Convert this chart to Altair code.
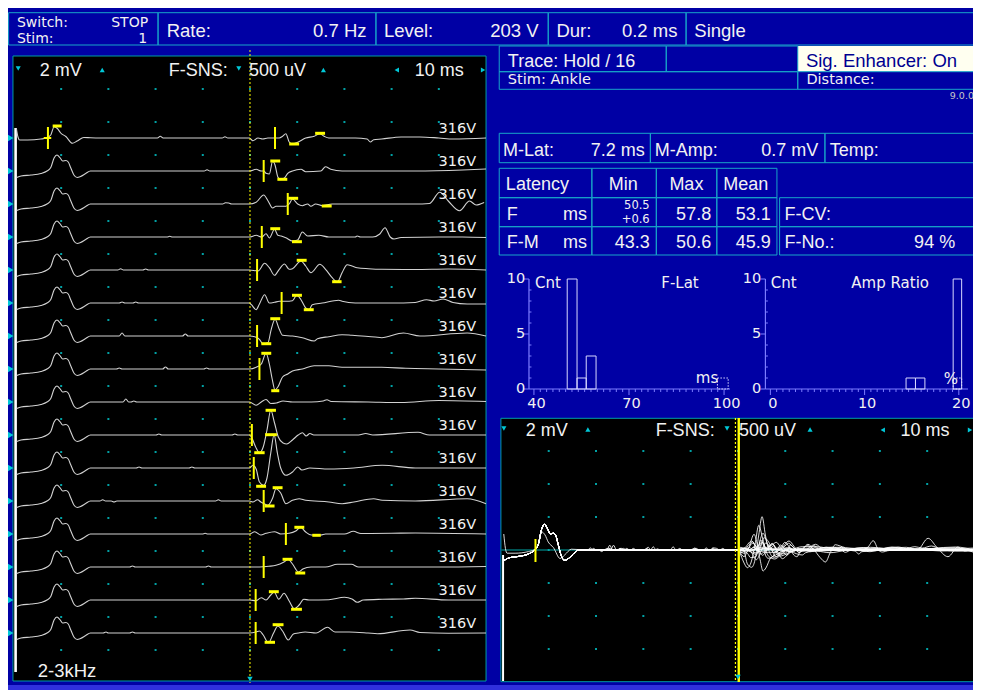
import altair as alt
import pandas as pd

N_TRACES = 16
TRACE_LEVEL = ["316V"] * N_TRACES
M_LAT_MS = 7.2
F_CURSOR_MS = 50.0
STIM_ARTIFACT_MS = 0.35

# M response (ms, amplitude in display px at M gain)
M_WAVE_T1_MS = [0.5, 0.85, 1.2, 2.9, 5.7, 6.8, 7.8, 8.5, 9.2, 9.9, 11.0, 12.4, 13.4, 14.8, 16.2, 20.0]
M_WAVE_T1_AMP = [10, 1, -2, -2, -1, 0, 3, 11.3, 9.5, 5, 1.5, -5.3, -3, 0.5, 0.3, 0]
M_WAVE_MS = [0.6, 1.5, 3.6, 5.7, 7.0, 7.8, 8.5, 9.1, 9.8, 10.3, 11.0, 11.5, 12.0, 12.7, 13.4, 14.1, 15.2, 16.2, 20.0]
M_WAVE_AMP = [-6.5, -5, -4, -2.5, 0, 3.5, 13, 16, 13, 10, 10.5, 9, 3.5, -4, -6.5, -5.5, -2.5, 0, 0]
M_PEAK_BAR_MS = [8.2, 10.1]
M_PEAK_BAR_AMP = 12.0

# rest of each trace after the M response: (ms, amplitude)
TRACE_01 = [(30.4, 0), (31.0, 1.8), (31.6, 0), (44.1, 0), (44.7, 1.3), (45.3, 0), (48.5, 0), (49.9, 0),
            (50.6, -2.7), (51.7, 0), (52.7, -1), (53.8, 0), (56.2, 0), (56.9, 1.7), (57.6, 4.3), (58.3, -4),
            (59.0, -6), (60.1, -4.3), (61.8, 0), (63.6, 1.7), (64.8, 4.3), (65.7, 1.7), (66.7, 0), (72.3, 0),
            (74.8, -1), (75.5, -4), (76.2, -1.7), (77.9, -1), (82, 1), (86, 1), (90, 0), (93, -1), (100, 0)]
TRACE_02 = [(40.3, 0), (40.9, 1.3), (41.5, 0), (48.5, 0), (49.9, 0), (51.3, 1.7), (52.4, 0), (52.9, 0),
            (53.4, -2.3), (54.1, -3), (54.8, 10), (55.3, 6), (55.9, -6), (56.4, -8.3), (57.3, -7), (58.0, -2.3),
            (59.0, 0), (60.8, 1.7), (61.8, -0.7), (65.0, 0), (66.0, 4.3), (67.1, 1.7), (69.5, 0), (78, 0),
            (85, 0), (95, 1), (100, 2)]
TRACE_03 = [(44.2, 0), (44.8, 1.3), (45.5, 1), (46.1, 0), (48.5, 0), (49.9, 0), (51.3, 1.7), (52.9, 9),
            (53.8, 3.3), (54.8, -4), (55.5, -2.3), (56.6, -2.3), (57.6, -2.3), (58.3, 0), (59.0, 5), (60.1, 0),
            (61.1, -1.7), (62.2, 0), (62.9, -2.3), (63.9, 0), (65.3, -1.7), (67.4, 0), (75, 0), (85, 0),
            (88, 0.5), (90.2, 11.7), (92, 3), (94.4, -6.7), (96.5, 3), (97.9, -1), (99.6, 1.5)]
TRACE_04 = [(32.4, 0), (33.0, 0.7), (33.6, 0), (48.5, 0), (49.9, 0), (51.3, 1.7), (52.5, 0), (53.4, 3.3),
            (54.1, -1), (55.2, 7.7), (55.9, 1.7), (56.6, 1), (57.6, -0.7), (59.0, -4), (60.1, -3), (61.1, 5),
            (62.2, 1), (64.6, 1.7), (66.7, 0), (72.3, 0), (72.7, 1), (73.4, 0), (76, 0), (77.5, 3), (78.6, 9.3),
            (79.7, 0), (80.5, -2), (82, -0.5), (90, 0), (95, 0), (100, -0.5)]
TRACE_05 = [(22.0, 0), (22.6, 1.3), (23.2, 0), (27.3, 0), (27.9, 1), (28.5, 0), (48.5, 0), (49.9, 0),
            (51.7, -1), (53.1, 6.7), (54.1, 2.3), (55.2, -5.3), (56.2, 0.7), (57.3, 6), (58.3, 0.7), (59.0, 1.3),
            (60.8, 9), (61.8, 4), (62.9, -2.7), (64.8, 5.7), (66.0, 0.7), (67.4, -7.7), (68.5, -12), (69.5, -2.7),
            (70.6, 5.3), (71.6, 4), (72.7, 2.3), (75.1, 1.3), (77.9, 0.7), (85, 0.5), (92, 1), (100, 0)]
TRACE_06 = [(22.3, 0), (22.9, 1), (23.5, 0), (25.2, 0), (25.8, 1), (26.4, 0), (48.5, 0), (49.9, 0),
            (50.3, -1.7), (51.3, -6.7), (52.0, -1), (53.1, 8.3), (54.1, 0), (55.2, 0.7), (56.2, 1.7), (57.6, 1.7),
            (59.0, 2.3), (59.9, 7.7), (60.8, 3.3), (61.8, -5), (62.5, -6.7), (63.2, -1.7), (65.3, 0), (68.8, 2.7),
            (69.5, 1.7), (72.3, 0), (80, 0), (85, 0.5), (87.4, 3.3), (89, 2), (90.9, 4), (93, 0.5), (96, -1),
            (100, -1)]
TRACE_07 = [(22.3, 0), (22.9, 3), (23.5, 0), (35.7, 0), (36.3, 2), (36.9, 0), (48.5, 0), (49.9, 0),
            (51.0, -0.7), (52.0, -3.3), (52.7, -7.7), (53.8, -6.7), (54.5, 6.7), (55.3, 16.7), (56.2, 6.7),
            (56.9, 0.7), (59.0, 0), (61.1, -1.7), (63.6, -5), (64.3, -2.7), (66.7, -0.7), (69.5, 1.3), (71.6, 0.7),
            (73.7, 0), (76.5, -1), (77.9, -1.7), (82.5, 3), (86, 0), (96, 3), (100, 0)]
TRACE_08 = [(21.7, 0), (22.3, 1), (22.9, 0), (31.5, 0), (32.1, 2), (32.7, 0), (40.2, 0), (40.8, 1), (41.4, 0),
            (48.5, 0), (49.9, 0), (51.3, 1.7), (52.4, 5), (53.4, 15.7), (54.1, 5), (54.7, -10), (55.3, -21),
            (55.9, -18), (56.9, -8), (58.0, -5), (59.0, -2), (61.1, 0), (63.6, 3.3), (66.7, 3.3), (69.5, 1.7),
            (77.9, 1.7), (83, 0.7), (90, 0), (100, -1)]
TRACE_09 = [(23.1, 0), (23.7, 3), (24.3, 0), (24.8, 0), (25.4, 1), (26.0, 0), (48.5, 0), (49.9, 0),
            (51.3, -3.3), (52.4, 0), (53.4, 2.5), (54.4, -1.5), (55.6, -1), (57, 1), (59, 0), (63, 0), (65.5, 1),
            (66.3, 2.3), (67.2, 0.5), (75, 0), (82, -0.5), (90, 1.5), (100, 0.5)]
TRACE_10 = [(30.1, 0), (30.7, 1), (31.3, 0), (46.2, 0), (46.8, 1), (47.4, 0), (48.5, 0), (49.9, 0),
            (50.4, -3), (51.2, -12), (52.0, -17.7), (52.8, -12), (53.6, 5), (54.4, 24.7), (55.2, 12), (56.0, -2),
            (57.0, -8), (57.8, -9), (59.0, -5), (60.2, 0), (61.1, 2.3), (61.9, -1), (62.7, 1.5), (63.5, 0),
            (67, 0), (73, 0), (74.5, 1.5), (76, 0), (85.6, 2.7), (88, 0), (100, 0)]
TRACE_11 = [(25.9, 0), (26.5, 1), (27.1, 0), (37.1, 0), (37.7, 1), (38.3, 0), (48.5, 0), (49.9, 0),
            (50.6, 2.7), (51.3, -1), (52.0, -14), (52.9, -17.3), (53.6, -10), (54.4, 15), (55.1, 33.3),
            (55.8, 15), (56.5, 0), (57.6, -7.3), (59.0, -4), (60.1, 1), (61.0, -2), (62.7, 0), (66.7, -1),
            (72, 0), (78, 2.7), (85, 0), (100, 0)]
TRACE_12 = [(18.2, 0), (18.8, 1.3), (19.4, 0), (20.6, 0), (21.2, -1), (21.8, 0), (42.7, 0), (43.3, 1.3),
            (43.9, 0), (48.5, 0), (49.9, 0), (50.6, -1), (51.6, 1.3), (52.3, -1), (53.0, -2.7), (53.8, -4.3),
            (54.8, 3), (55.5, 12.3), (56.5, 8), (57.6, -2.7), (59.0, 0.7), (60.4, 2.3), (61.8, 0.7), (66.7, -1),
            (69.5, -2.7), (72, -1), (76.2, 2.3), (78, 0.7), (85, 0), (96, 2.3), (100, -2.7)]
TRACE_13 = [(39.9, 0), (40.5, 0.7), (41.1, 0), (48.5, 0), (49.9, 0), (51.0, 2.3), (52.3, -1), (53.4, 0.7),
            (55.2, 2.3), (56.5, 0), (58.3, 0.7), (59.7, 3), (60.7, 6.7), (61.8, 2), (63.0, -1), (65.0, -1),
            (66.0, 0), (70, 0), (71.9, 2.7), (73.5, 0.5), (80, 0.7), (85, 1), (100, 0)]
TRACE_14 = [(24.5, 0), (25.1, 1), (25.7, 0), (40.6, 0), (41.2, 1), (41.8, 0), (48.5, 0), (49.9, 0), (52, 0),
            (54, 0.7), (55.5, 1.7), (57.2, 5), (58.1, 7.7), (59.0, 3), (60.3, -5), (61.2, -2), (62.9, 0), (66, 0),
            (68.5, 2.7), (71.5, 2.7), (73, 0), (80, 0), (90, 0), (100, 0.5)]
TRACE_15 = [(48.5, 0), (49.9, 0), (51.3, -0.7), (52.4, 2.3), (53.4, 0), (54.4, 5), (55.1, 8), (56.1, 0.7),
            (57.2, 6.7), (58.3, -1), (59.4, -8.7), (60.4, -5), (61.4, 0.7), (62.5, 0), (66.7, 0.3), (70, 2.7),
            (71.6, 1), (72.7, -2.3), (74, 0), (78, 0.7), (82.5, 1), (85, 1.7), (92, 0), (100, 0)]
TRACE_16 = [(18.9, 0), (19.5, 1), (20.1, 0), (24.5, 0), (25.1, 1), (25.7, 0), (48.5, 0), (49.9, 0),
            (51.3, 1), (52.0, 2), (52.8, -2), (53.9, -9.7), (55.0, 0), (55.9, 7), (56.9, 2), (58.1, -7),
            (59.2, -1), (60.2, 0), (61.7, 1), (64, 0), (66.4, 5.7), (68, 1), (71, 1), (75, 0), (77, -0.7),
            (83.9, 3), (86, 0.5), (92, -0.3), (100, 0)]

# F-wave markers per trace (trace 9: no F wave found -> F-No. 94 %)
F_ONSET_MS = [55.3, 52.9, 58.0, 52.5, 51.5, 56.7, 51.5, 52.0, None, 50.4, 50.8, 52.9, 57.6, 52.9, 51.2, 51.2]
F_PEAK_FROM = [63.8, 54.3, 58.1, 54.3, 59.9, 58.9, 54.3, 52.4, None, 53.3, 53.2, 54.8, 59.4, 56.9, 54.0, 54.8]
F_PEAK_TO = [65.9, 56.4, 60.2, 56.4, 62.0, 61.0, 56.4, 54.5, None, 55.5, 55.7, 56.9, 61.5, 59.0, 56.1, 57.1]
F_PEAK_AMP = [4.7, 10, 5.7, 8.3, 9.7, 7.7, 17.3, 15.7, None, 24.7, 33.3, 13.3, 6.7, 7.7, 8.3, 8.3]
F_TROUGH_FROM = [58.3, 55.8, 65.2, 58.9, 67.4, 61.4, 52.4, 54.5, None, 50.9, 51.3, 53.1, 63.2, 59.6, 58.7, 53.1]
F_TROUGH_TO = [60.4, 57.9, 67.3, 61.0, 69.4, 63.5, 54.5, 56.2, None, 53.1, 53.4, 55.2, 65.0, 61.7, 61.0, 55.3]
F_TROUGH_AMP = [-6, -8.3, -2, -4.7, -11.7, -6.7, -7.7, -21.7, None, -17.7, -18.3, -5, -1.3, -6, -9.3, -9.3]

# histograms
FLAT_BIN_LO = [50.5, 53.6, 56.5]
FLAT_BIN_HI = [53.6, 56.5, 59.6]
FLAT_COUNT = [11, 1, 3]
AMPR_BIN_LO = [14.4, 15.4, 19.4]
AMPR_BIN_HI = [15.4, 16.4, 20.3]
AMPR_COUNT = [1, 1, 13]
FLAT_TICKS = [40, 70, 100]
AMPR_TICKS = [0, 10, 20]
CNT_TICKS = [0, 5, 10]

# ======================= STYLE / LAYOUT =======================
W, H = 965, 682
KX = W / 973.0                      # screen columns 8..981 squeezed into the 965 px page width
BIG = "Liberation Sans"
SMALL = "DejaVu Sans"
NAVY = "#0000A4"
NAVY_TXT = "#000090"
LINE = "#18A4C8"
EDGE = "#009CA4"
TRI = "#00C8D8"
DOT = "#00A0A4"
YEL = "#FFFF00"
GREY = "#D2D2D2"
WHITE = "#F2F2F2"
AXB = "#7C7CFF"
BARL = "#D8D8FF"
GAP = 33          # vertical spacing of the stacked traces, px
R_GAIN_M = 1.6    # superimposed panel gain before the F-SNS cursor


def px(x):
    return (x - 8) * KX


def sc(domain, rng, clamp=False):
    return alt.Scale(domain=domain, range=rng, nice=False, zero=False, clamp=clamp)


SCRX = lambda: sc([0, 1000], [px(0), px(1000)])          # screen columns
SCRY = lambda: sc([0, 1000], [-8, 992])                  # screen rows
LX = lambda: sc([0, 100], [px(14), px(490)])              # left panel time
LY = lambda: sc([0, 100], [130, 30])                      # left panel stacked amplitude
RX = lambda: sc([0, 100], [px(505.5), px(982.5)])         # superimposed panel time
RY = lambda: sc([0, 100], [542, 442])                     # superimposed panel amplitude
HLX = lambda: sc([40, 100], [px(538.3), px(730)])         # F-Lat histogram
HRX = lambda: sc([0, 20], [px(776.7), px(966.7)])         # Amp ratio histogram
HY = lambda: sc([0, 10], [381, 271], clamp=True)


def X(f, s):
    return alt.X(f, scale=s, axis=None)


def Y(f, s):
    return alt.Y(f, scale=s, axis=None)


layers = []

# ---------- screen boxes ----------
def boxes(rows, filled, **kw):
    df = pd.DataFrame(rows, columns=["x", "x2", "y", "y2", "c"])
    if filled:
        m = alt.Chart(df).mark_rect(**kw).encode(fill=alt.Fill("c:N", scale=None))
    else:
        m = alt.Chart(df).mark_rect(fillOpacity=0, strokeWidth=1, **kw).encode(
            stroke=alt.Stroke("c:N", scale=None))
    return m.encode(x=X("x:Q", SCRX()), x2="x2:Q", y=Y("y:Q", SCRY()), y2="y2:Q")


fills = [
    (8, 982, 685, 690, "#3030DC"),
    (13, 490, 56, 681, "#000000"),
    (505, 982, 418.3, 681.7, "#000000"),
    (804.3, 982, 46, 71.7, "#FFFFF0"),
]
layers.append(boxes(fills, True))

outl = []
tb = [8.6, 159.3, 379, 552.7, 691.7, 982]
for a, b in zip(tb[:-1], tb[1:]):
    outl.append((a, b, 12.7, 45, LINE))
outl += [(503.3, 671.7, 46, 71.7, LINE), (671.7, 804.3, 46, 71.7, LINE),
         (503.3, 804.3, 71.7, 89.3, LINE), (804.3, 982, 71.7, 89.3, LINE),
         (503.3, 655.7, 133.3, 162.7, LINE), (655.7, 831.7, 133.3, 162.7, LINE), (831.7, 982, 133.3, 162.7, LINE),
         (786, 982, 197.7, 226.7, LINE), (786, 982, 226.7, 255, LINE)]
lc = [503.3, 596.7, 661.7, 722.7, 783.3]
lr = [168.3, 197.7, 226.7, 255]
for a, b in zip(lc[:-1], lc[1:]):
    for c, d in zip(lr[:-1], lr[1:]):
        outl.append((a, b, c, d, LINE))
outl += [(13, 490, 56, 681, EDGE), (505, 982, 418.3, 681.7, EDGE)]
layers.append(boxes(outl, False))

# ---------- trace data ----------
TAILS = [TRACE_01, TRACE_02, TRACE_03, TRACE_04, TRACE_05, TRACE_06, TRACE_07, TRACE_08,
         TRACE_09, TRACE_10, TRACE_11, TRACE_12, TRACE_13, TRACE_14, TRACE_15, TRACE_16]
rows = []
for i, tail in enumerate(TAILS, start=1):
    head = list(zip(M_WAVE_T1_MS, M_WAVE_T1_AMP)) if i == 1 else list(zip(M_WAVE_MS, M_WAVE_AMP))
    for t, a in head + tail:
        rows.append({"trace": i, "t": t, "amp": a})
traces = pd.DataFrame(rows)

mk = pd.DataFrame({"trace": list(range(1, N_TRACES + 1)), "onset": F_ONSET_MS,
                   "pk0": F_PEAK_FROM, "pk1": F_PEAK_TO, "pka": F_PEAK_AMP,
                   "tr0": F_TROUGH_FROM, "tr1": F_TROUGH_TO, "tra": F_TROUGH_AMP}).dropna()
lab = pd.DataFrame({"trace": list(range(1, N_TRACES + 1)), "label": TRACE_LEVEL})
BASE = f"-{GAP}*(datum.trace-1)"

# ---------- left stacked panel ----------
ldots = pd.DataFrame([{"t": c, "y": 49 - GAP * k} for c in range(10, 100, 10) for k in range(18)])
layers.append(alt.Chart(ldots).mark_square(size=4, color=DOT, opacity=1).encode(
    x=X("t:Q", LX()), y=Y("y:Q", LY())))

layers.append(alt.Chart(pd.DataFrame([{"t": STIM_ARTIFACT_MS, "y1": 10, "y2": -534}])).mark_rule(
    color="#FFFFFF", strokeWidth=2.6).encode(x=X("t:Q", LX()), y=Y("y1:Q", LY()), y2="y2:Q"))

layers.append(alt.Chart(traces).transform_calculate(yl=f"datum.amp {BASE}").mark_line(
    color=GREY, strokeWidth=1.1, interpolate="monotone").encode(
    x=X("t:Q", LX()), y=Y("yl:Q", LY()), detail="trace:N", order="t:Q"))

layers.append(alt.Chart(pd.DataFrame([{"t": F_CURSOR_MS, "y1": 88, "y2": -545}])).mark_rule(
    color=YEL, strokeWidth=1, strokeDash=[2, 2]).encode(x=X("t:Q", LX()), y=Y("y1:Q", LY()), y2="y2:Q"))

layers.append(alt.Chart(mk).transform_calculate(b=BASE, y1="datum.b + 11", y2="datum.b - 11").mark_rule(
    color=YEL, strokeWidth=2).encode(x=X("onset:Q", LX()), y=Y("y1:Q", LY()), y2="y2:Q"))
layers.append(alt.Chart(mk).transform_calculate(yp=f"datum.pka {BASE}").mark_rule(
    color=YEL, strokeWidth=3).encode(x=X("pk0:Q", LX()), x2="pk1:Q", y=Y("yp:Q", LY())))
layers.append(alt.Chart(mk).transform_calculate(yp=f"datum.tra {BASE}").mark_rule(
    color=YEL, strokeWidth=3).encode(x=X("tr0:Q", LX()), x2="tr1:Q", y=Y("yp:Q", LY())))

# M-latency cross and M peak bar on trace 1
layers.append(alt.Chart(pd.DataFrame([{"t": M_LAT_MS, "y1": 11, "y2": -11}])).mark_rule(
    color=YEL, strokeWidth=2).encode(x=X("t:Q", LX()), y=Y("y1:Q", LY()), y2="y2:Q"))
layers.append(alt.Chart(pd.DataFrame([{"t0": M_LAT_MS - 0.9, "t1": M_LAT_MS + 0.7, "y": 0}])).mark_rule(
    color=YEL, strokeWidth=2).encode(x=X("t0:Q", LX()), x2="t1:Q", y=Y("y:Q", LY())))
layers.append(alt.Chart(pd.DataFrame([{"t0": M_PEAK_BAR_MS[0], "t1": M_PEAK_BAR_MS[1], "y": M_PEAK_BAR_AMP}])).mark_rule(
    color=YEL, strokeWidth=3).encode(x=X("t0:Q", LX()), x2="t1:Q", y=Y("y:Q", LY())))

layers.append(alt.Chart(lab).transform_calculate(yl=BASE).mark_text(
    align="right", baseline="alphabetic", font=SMALL, fontSize=14.5, color=WHITE, dy=-5.5).encode(
    x=alt.value(px(480)), y=Y("yl:Q", LY()), text="label:N"))
layers.append(alt.Chart(lab).transform_calculate(yl=BASE).mark_point(
    shape="triangle-right", filled=True, size=45, color=TRI, opacity=1).encode(
    x=alt.value(px(10.6)), y=Y("yl:Q", LY())))
layers.append(alt.Chart(pd.DataFrame([{"t": F_CURSOR_MS, "y": -541}])).mark_point(
    shape="triangle-down", filled=True, size=30, color=TRI, opacity=1).encode(
    x=X("t:Q", LX()), y=Y("y:Q", LY())))

# ---------- superimposed panel ----------
rdots = pd.DataFrame([{"t": c, "y": v} for c in range(10, 100, 10) for v in [99, 66, 33, 0, -33, -66, -99]])
layers.append(alt.Chart(rdots).mark_square(size=4, color=DOT, opacity=1).encode(
    x=X("t:Q", RX()), y=Y("y:Q", RY())))
layers.append(alt.Chart(pd.DataFrame([{"t0": 0, "t1": 100, "y": 0}])).mark_rule(
    color="#00A8A8", strokeWidth=1).encode(x=X("t0:Q", RX()), x2="t1:Q", y=Y("y:Q", RY())))
layers.append(alt.Chart(pd.DataFrame([{"t": STIM_ARTIFACT_MS, "y1": -5, "y2": -131}])).mark_rule(
    color="#FFFFFF", strokeWidth=2).encode(x=X("t:Q", RX()), y=Y("y1:Q", RY()), y2="y2:Q"))
layers.append(alt.Chart(traces).transform_calculate(
    yr=f"datum.amp * (datum.t < {F_CURSOR_MS} ? {R_GAIN_M} : 1.0)").mark_line(
    color="#FFFFFF", strokeWidth=1, opacity=0.85, interpolate="monotone").encode(
    x=X("t:Q", RX()), y=Y("yr:Q", RY()), detail="trace:N", order="t:Q"))
layers.append(alt.Chart(pd.DataFrame([{"t": M_LAT_MS, "y1": 11, "y2": -12}])).mark_rule(
    color=YEL, strokeWidth=2).encode(x=X("t:Q", RX()), y=Y("y1:Q", RY()), y2="y2:Q"))
cur = pd.DataFrame([{"t": F_CURSOR_MS, "y1": 132, "y2": -132}])
layers.append(alt.Chart(cur).mark_rule(color=YEL, strokeWidth=1.2, strokeDash=[2, 2], xOffset=-2.5).encode(
    x=X("t:Q", RX()), y=Y("y1:Q", RY()), y2="y2:Q"))
layers.append(alt.Chart(cur).mark_rule(color=YEL, strokeWidth=2.4, xOffset=0.8).encode(
    x=X("t:Q", RX()), y=Y("y1:Q", RY()), y2="y2:Q"))
layers.append(alt.Chart(pd.DataFrame([{"t": F_CURSOR_MS, "y": -127}])).mark_point(
    shape="triangle-down", filled=True, size=30, color=TRI, opacity=1).encode(
    x=X("t:Q", RX()), y=Y("y:Q", RY())))

# ---------- histograms ----------
axes = pd.DataFrame([(533.3, 533.3, 279, 389), (533.3, 736, 389, 389),
                     (771.7, 771.7, 279, 389), (771.7, 976, 389, 389)], columns=["x", "x2", "y", "y2"])
layers.append(alt.Chart(axes).mark_rule(color=AXB, strokeWidth=1.2).encode(
    x=X("x:Q", SCRX()), x2="x2:Q", y=Y("y:Q", SCRY()), y2="y2:Q"))

ymaj = pd.DataFrame([{"c": c, "x": ax, "x2": ax - 5} for c in CNT_TICKS for ax in (533.3, 771.7)])
ymin = pd.DataFrame([{"c": c, "x": ax, "x2": ax + 2.5} for c in range(1, 10) if c != 5 for ax in (533.3, 771.7)])
for d in (ymaj, ymin):
    layers.append(alt.Chart(d).mark_rule(color=AXB).encode(
        x=X("x:Q", SCRX()), x2="x2:Q", y=Y("c:Q", HY())))
xl_min = pd.DataFrame([{"v": v, "y": 389, "y2": 392} for v in range(42, 100, 2) if v != 70])
xl_maj = pd.DataFrame([{"v": v, "y": 389, "y2": 395} for v in FLAT_TICKS])
xr_min = pd.DataFrame([{"v": k * 2 / 3, "y": 389, "y2": 392} for k in range(1, 30) if k != 15])
xr_maj = pd.DataFrame([{"v": v, "y": 389, "y2": 395} for v in AMPR_TICKS])
for d, s in ((xl_min, HLX), (xl_maj, HLX), (xr_min, HRX), (xr_maj, HRX)):
    layers.append(alt.Chart(d).mark_rule(color=AXB).encode(
        x=X("v:Q", s()), y=Y("y:Q", SCRY()), y2="y2:Q"))

ylab = pd.DataFrame([{"c": c, "x": ax, "t": str(c)} for c in CNT_TICKS for ax in (529.5, 767.5)])
layers.append(alt.Chart(ylab).mark_text(align="right", baseline="middle", font=SMALL, fontSize=14.5,
                                        color=WHITE).encode(
    x=X("x:Q", SCRX()), y=Y("c:Q", HY()), text="t:N"))
for ticks, s in ((FLAT_TICKS, HLX), (AMPR_TICKS, HRX)):
    d = pd.DataFrame([{"v": v, "y": 404, "t": str(v)} for v in ticks])
    layers.append(alt.Chart(d).mark_text(align="center", baseline="middle", font=SMALL, fontSize=14.5,
                                         color=WHITE, dx=2.5).encode(
        x=X("v:Q", s()), y=Y("y:Q", SCRY()), text="t:N"))

for lo, hi, cnt, s in ((FLAT_BIN_LO, FLAT_BIN_HI, FLAT_COUNT, HLX), (AMPR_BIN_LO, AMPR_BIN_HI, AMPR_COUNT, HRX)):
    d = pd.DataFrame({"lo": lo, "hi": hi, "n": cnt})
    layers.append(alt.Chart(d).transform_calculate(z="0").mark_rect(
        fillOpacity=0, stroke=BARL, strokeWidth=1).encode(
        x=X("lo:Q", s()), x2="hi:Q", y=Y("z:Q", HY()), y2="n:Q"))
icons = [((97.9, 101.3), HLX), ((19.4, 20.3), HRX)]
for (a, b), s in icons:
    d = pd.DataFrame([{"lo": a, "hi": b, "z": 0, "n": 1}])
    layers.append(alt.Chart(d).mark_rect(fillOpacity=0, stroke=BARL, strokeWidth=1, strokeDash=[1.5, 1.5]).encode(
        x=X("lo:Q", s()), x2="hi:Q", y=Y("z:Q", HY()), y2="n:Q"))

# ---------- header triangles ----------
tris = pd.DataFrame([
    (18.3, 68.5, "triangle-down"), (103, 70, "triangle-up"), (240.7, 68.5, "triangle-down"),
    (326, 70, "triangle-up"), (400, 70, "triangle-left"), (487, 70, "triangle-right"),
    (508, 428.5, "triangle-down"), (592.7, 429.5, "triangle-up"), (733, 428.5, "triangle-down"),
    (816.7, 429.5, "triangle-up"), (890, 430, "triangle-left"), (978, 430, "triangle-right"),
], columns=["x", "y", "shape"])
layers.append(alt.Chart(tris).mark_point(filled=True, size=26, color=TRI, opacity=1).encode(
    x=X("x:Q", SCRX()), y=Y("y:Q", SCRY()), shape=alt.Shape("shape:N", scale=None)))


# ---------- screen texts ----------
def texts(rows, align, font):
    df = pd.DataFrame(rows, columns=["text", "x", "y", "size", "color"])
    return alt.Chart(df).mark_text(align=align, baseline="alphabetic", font=font).encode(
        x=X("x:Q", SCRX()), y=Y("y:Q", SCRY()), text="text:N",
        size=alt.Size("size:Q", scale=None), color=alt.Color("color:N", scale=None))


big_left = [
    ("Rate:", 168, 37.3, 18.5, WHITE), ("Level:", 387, 37.3, 18.5, WHITE), ("Dur:", 561, 37.3, 18.5, WHITE),
    ("Single", 700, 37.3, 18.5, WHITE), ("Trace: Hold / 16", 512, 66.5, 18, WHITE),
    ("Sig. Enhancer: On", 812.5, 67, 18.5, NAVY_TXT),
    ("M-Lat:", 507, 156, 18, WHITE), ("M-Amp:", 660, 156, 18, WHITE), ("Temp:", 836.5, 156, 18, WHITE),
    ("Latency", 510, 190, 18, WHITE), ("F", 511, 220, 18, WHITE), ("F-M", 511, 247.5, 18, WHITE),
    ("F-CV:", 791, 220, 18, WHITE), ("F-No.:", 791, 247.5, 18, WHITE),
    ("2 mV", 40, 76, 18, WHITE), ("F-SNS:", 170, 76, 18, WHITE), ("500 uV", 251, 76, 18, WHITE),
    ("10 ms", 418, 76, 18, WHITE),
    ("2 mV", 530, 435.5, 18, WHITE), ("F-SNS:", 661, 435.5, 18, WHITE), ("500 uV", 745, 435.5, 18, WHITE),
    ("10 ms", 908, 435.5, 18, WHITE), ("2-3kHz", 38, 676.5, 18.5, WHITE),
]
big_right = [
    ("0.7 Hz", 369.5, 37.3, 18.5, WHITE), ("203 V", 543, 37.3, 18.5, WHITE), ("0.2 ms", 683, 37.3, 18.5, WHITE),
    ("7.2 ms", 650, 156, 18, WHITE), ("0.7 mV", 825, 156, 18, WHITE),
    ("ms", 591.7, 220, 18, WHITE), ("57.8", 717, 220, 18, WHITE), ("53.1", 777, 220, 18, WHITE),
    ("ms", 591.7, 247.5, 18, WHITE), ("43.3", 655, 247.5, 18, WHITE), ("50.6", 717, 247.5, 18, WHITE),
    ("45.9", 777, 247.5, 18, WHITE), ("94 %", 963, 247.5, 18, WHITE),
]
big_center = [("Min", 628.4, 190, 18, WHITE), ("Max", 692, 190, 18, WHITE), ("Mean", 751.8, 190, 18, WHITE)]
small_left = [
    ("Switch:", 17, 27.3, 14, WHITE), ("Stim:", 17, 42.7, 14, WHITE),
    ("Stim:  Ankle", 512, 84, 14.5, WHITE), ("Distance:", 813, 84, 14.5, WHITE),
    ("Cnt", 539.3, 288, 15, WHITE), ("F-Lat", 666.7, 288, 15, WHITE),
    ("Cnt", 777, 288, 15, WHITE), ("Amp Ratio", 858.3, 288, 15, WHITE),
    ("ms", 701.5, 383, 15, WHITE), ("%", 951.5, 384, 15, WHITE),
]
small_right = [
    ("STOP", 149.3, 27.3, 14, WHITE), ("1", 148.3, 42.7, 14, WHITE),
    ("50.5", 655, 209.3, 11.5, WHITE), ("+0.6", 655, 223.3, 11.5, WHITE),
    ("9.0.0", 982, 98.5, 9.5, "#C8C8C8"),
]
layers += [texts(big_left, "left", BIG), texts(big_right, "right", BIG), texts(big_center, "center", BIG),
           texts(small_left, "left", SMALL), texts(small_right, "right", SMALL)]

chart = alt.layer(*layers).resolve_scale(x="independent", y="independent").properties(
    width=W, height=H, padding=0, autosize=alt.AutoSizeParams(type="none")
).configure(background=NAVY).configure_view(stroke=None)

chart.save("out.html", embed_options={"renderer": "svg", "actions": False})
